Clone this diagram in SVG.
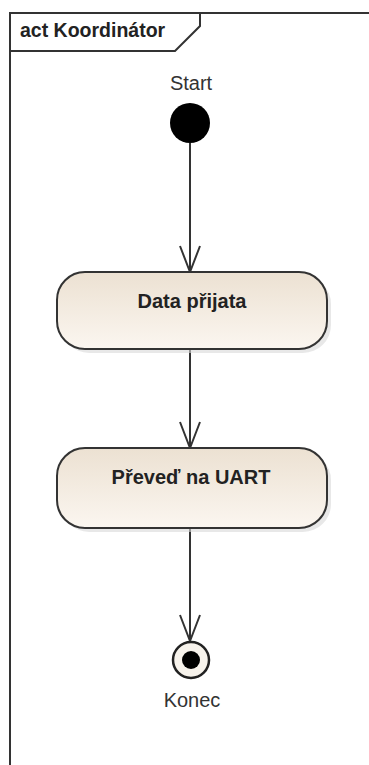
<svg xmlns="http://www.w3.org/2000/svg" width="369" height="765" viewBox="0 0 369 765">
<style>
.frame{fill:none;stroke:#333;stroke-width:2}
.lbl{font-family:"Liberation Sans",Arial,sans-serif;font-size:20px;fill:#333;text-anchor:middle}
.act{fill:url(#g);stroke:#333;stroke-width:2}
.shadow{fill:#d8d8d8;opacity:0.6}
.atext{font-family:"Liberation Sans",Arial,sans-serif;font-size:20px;font-weight:bold;fill:#222;text-anchor:middle}
.edge{stroke:#333;stroke-width:2;fill:none}
</style>
<defs>
<linearGradient id="g" x1="0" y1="0" x2="0" y2="1">
<stop offset="0" stop-color="#ece1d2"/>
<stop offset="1" stop-color="#fbf6f0"/>
</linearGradient>
<marker id="arr" markerWidth="30" markerHeight="24" refX="27" refY="11" orient="auto" markerUnits="userSpaceOnUse" viewBox="0 0 30 24">
<path d="M1,1 L27,11 L1,21" fill="none" stroke="#333" stroke-width="2"/>
</marker>
</defs>
<g id="frame">
<path class="frame" d="M10,765 V13 H369"/>
<path class="frame" d="M10,51 H175 L200,26 V13"/>
<text x="20" y="37" font-family="'Liberation Sans',Arial,sans-serif" font-size="19.5" font-weight="bold" fill="#222">act Koordinátor</text>
</g>
<g id="connectors">
<line class="edge" x1="190" y1="143" x2="190" y2="272" marker-end="url(#arr)"/>
<line class="edge" x1="190" y1="349" x2="190" y2="448" marker-end="url(#arr)"/>
<line class="edge" x1="190" y1="528" x2="190" y2="641" marker-end="url(#arr)"/>
</g>
<g id="start">
<text class="lbl" x="191" y="90">Start</text>
<circle cx="190" cy="123" r="20" fill="#000"/>
</g>
<g id="data_prijata">
<rect class="shadow" x="61" y="276" width="270" height="77" rx="28"/>
<rect class="act" x="57" y="272" width="270" height="77" rx="28"/>
<text class="atext" x="192" y="308">Data přijata</text>
</g>
<g id="prevod_uart">
<rect class="shadow" x="61" y="452" width="270" height="80" rx="28"/>
<rect class="act" x="57" y="448" width="270" height="80" rx="28"/>
<text class="atext" x="191" y="484">Převeď na UART</text>
</g>
<g id="konec">
<circle cx="191" cy="660" r="18" fill="#f7f3ec" stroke="#222" stroke-width="2.5"/>
<circle cx="191" cy="660" r="9" fill="#000"/>
<text class="lbl" x="192" y="707">Konec</text>
</g>
</svg>
